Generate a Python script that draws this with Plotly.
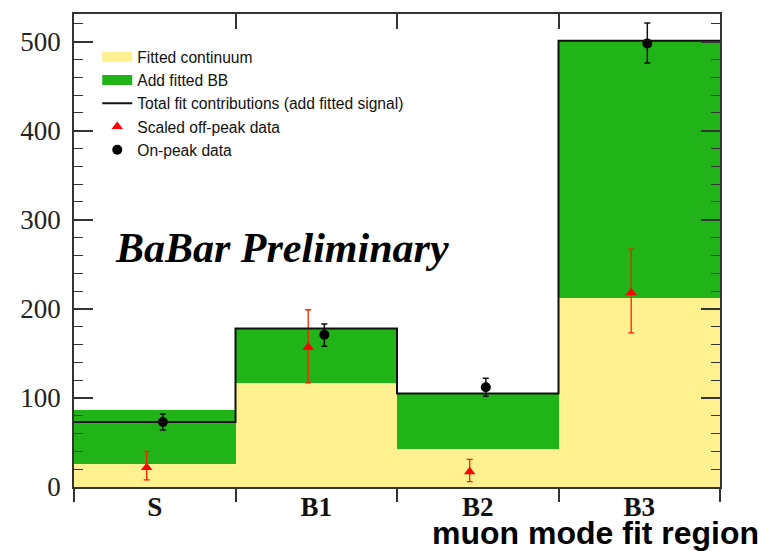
import plotly.graph_objects as go

categories = ["S", "B1", "B2", "B3"]
continuum = [26, 117, 43, 212]
bb_added = [61, 61, 62, 289]
total_fit = [73, 178, 105, 501]
offpeak = [22, 157, 17, 218]
offpeak_err_up = [18, 42, 14, 49]
offpeak_err_dn = [14, 40, 11, 45]
onpeak = [73, 171, 112, 498]
onpeak_err_up = [9, 12, 10, 23]
onpeak_err_dn = [9, 13, 10, 22]

n = len(categories)
centers = [i + 0.5 for i in range(n)]
edges = list(range(n + 1))
x_off = [c - 0.05 for c in centers]
x_on = [c + 0.05 for c in centers]

YELLOW = "#fff18f"
GREEN = "#20b418"

fig = go.Figure()
fig.add_trace(go.Bar(x=centers, y=continuum, width=1, marker=dict(color=YELLOW, line=dict(width=0)),
                     showlegend=False, name="Fitted continuum"))
fig.add_trace(go.Bar(x=centers, y=bb_added, width=1, marker=dict(color=GREEN, line=dict(width=0)),
                     showlegend=False, name="Add fitted BB"))
# legend-only swatches
fig.add_trace(go.Scatter(x=[None], y=[None], mode="lines", line=dict(color=YELLOW, width=15),
                         name="Fitted continuum"))
fig.add_trace(go.Scatter(x=[None], y=[None], mode="lines", line=dict(color=GREEN, width=15),
                         name="Add fitted BB"))
fig.add_trace(go.Scatter(x=edges, y=total_fit + [total_fit[-1]], mode="lines", line_shape="hv",
                         line=dict(color="#111111", width=2), xaxis="x2",
                         name="Total fit contributions (add fitted signal)"))
fig.add_trace(go.Scatter(x=x_off, y=offpeak, mode="markers",
                         marker=dict(symbol="triangle-up", color="#ff0000", size=10),
                         error_y=dict(type="data", symmetric=False, array=offpeak_err_up,
                                      arrayminus=offpeak_err_dn, color="#ff2000", thickness=1.3, width=3),
                         name="Scaled off-peak data"))
fig.add_trace(go.Scatter(x=x_on, y=onpeak, mode="markers",
                         marker=dict(symbol="circle", color="#000000", size=10),
                         error_y=dict(type="data", symmetric=False, array=onpeak_err_up,
                                      arrayminus=onpeak_err_dn, color="#111111", thickness=1.5, width=3),
                         name="On-peak data"))

fig.update_layout(
    width=763, height=551,
    margin=dict(l=74, r=43, t=12, b=64),
    paper_bgcolor="white", plot_bgcolor="white",
    barmode="stack", bargap=0,
    showlegend=True,
    legend=dict(x=0.036, y=0.945, xanchor="left", yanchor="top", bgcolor="rgba(255,255,255,0)",
                traceorder="normal",
                font=dict(family="Liberation Sans, Arial, sans-serif", size=15.6, color="#111111"),
                itemwidth=30, tracegroupgap=0),
    xaxis=dict(range=[0, n], tickvals=centers, ticktext=categories, ticks="",
               tickfont=dict(family="Liberation Serif, Times New Roman, serif", size=27, color="#111111",
                             weight="bold"),
               showline=True, linecolor="#333333", linewidth=1.5, mirror=True, showgrid=False,
               zeroline=False, ticklabelstandoff=-5,
               minor=dict(tick0=0, dtick=1, ticks="outside", ticklen=13, tickcolor="#333333",
                          tickwidth=1.5, showgrid=False)),
    xaxis2=dict(range=[0, n], overlaying="x", side="top", anchor="y", tickvals=edges[1:-1],
                ticks="inside", ticklen=15, tickcolor="#333333", tickwidth=1.5,
                showticklabels=False, showgrid=False, zeroline=False, showline=False),
    yaxis=dict(range=[0, 531], tick0=0, dtick=100, ticks="inside", ticklen=19, tickwidth=1.5,
               tickcolor="#333333",
               tickfont=dict(family="Liberation Serif, Times New Roman, serif", size=27, color="#222222"),
               showline=True, linecolor="#333333", linewidth=1.5, mirror="ticks", showgrid=False,
               zeroline=False, ticklabelstandoff=6,
               minor=dict(dtick=20, ticks="inside", ticklen=9, tickcolor="#333333", tickwidth=1.2,
                          showgrid=False)),
    annotations=[
        dict(text="BaBar Preliminary", xref="paper", yref="paper", x=0.322, y=0.505,
             xanchor="center", yanchor="middle", showarrow=False,
             font=dict(family="Liberation Serif, Times New Roman, serif", size=42, color="#000000",
                       weight="bold", style="italic")),
        dict(text="muon mode fit region", xref="paper", yref="paper", x=1.063, y=-0.098,
             xanchor="right", yanchor="middle", showarrow=False,
             font=dict(family="Liberation Sans, Arial, sans-serif", size=32, color="#000000",
                       weight="bold")),
    ],
)

fig.write_html("out.html")
